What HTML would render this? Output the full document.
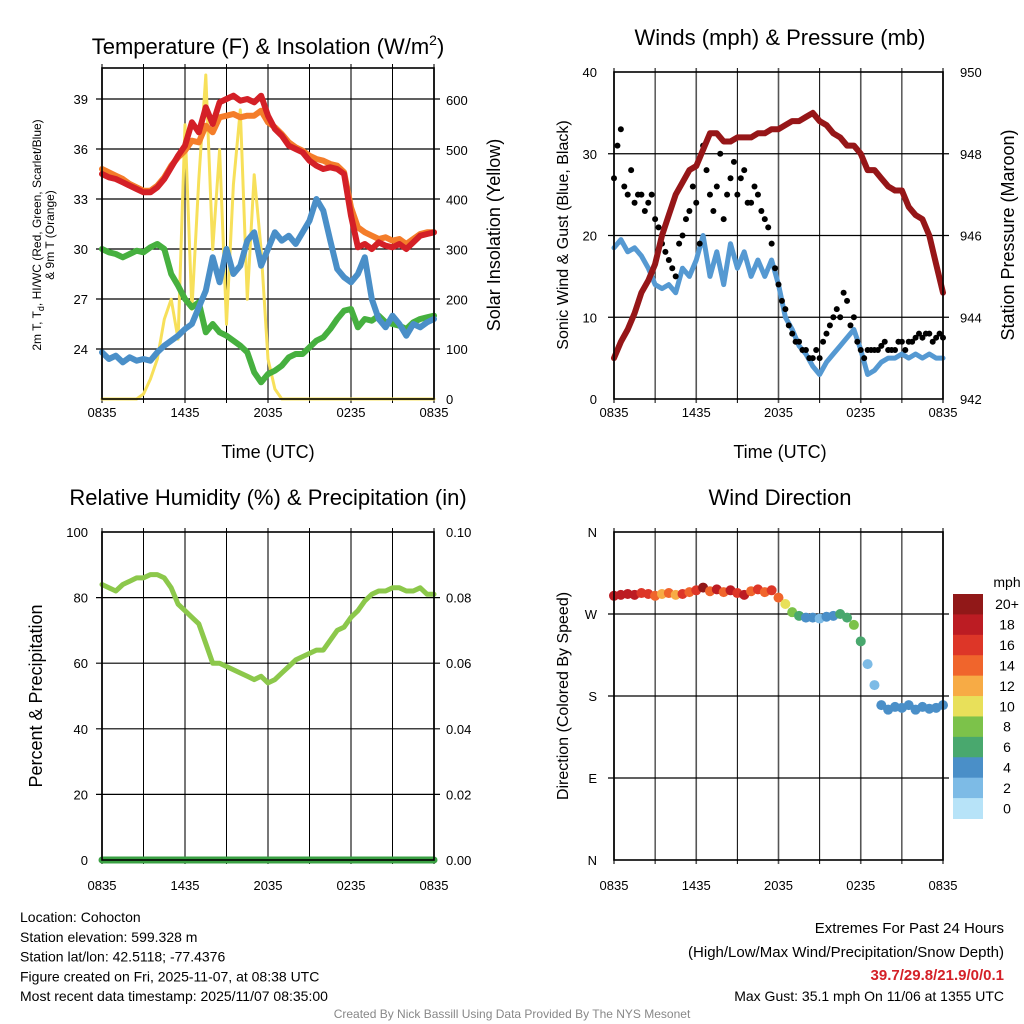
<!DOCTYPE html>
<html><head><meta charset="utf-8"><style>
html,body{margin:0;padding:0;background:#fff}
svg{display:block;font-family:"Liberation Sans",sans-serif}
</style></head><body>
<svg id="fig" width="1024" height="1024" viewBox="0 0 1024 1024" xmlns="http://www.w3.org/2000/svg">
<g id="root"></g>
</svg>
<script>
// ---------- data (30-min intervals, 0835 UTC -> 0835 UTC) ----------
const timeLabels = ["0835","1435","2035","0235","0835"];
const tempTicks = [24,27,30,33,36,39];
const solarTicks = [0,100,200,300,400,500,600];
const windTicks = [0,10,20,30,40];
const presTicks = [942,944,946,948,950];
const rhTicks = [0,20,40,60,80,100];
const precipTicks = ["0.00","0.02","0.04","0.06","0.08","0.10"];
const dirTicks = ["N","E","S","W","N"];
const speedBins = ["0","2","4","6","8","10","12","14","16","18","20+"];

const tempT = [34.5,34.3,34.2,34.0,33.8,33.6,33.4,33.4,33.7,34.2,34.9,35.6,36.2,37.6,37.0,38.5,37.5,38.8,39.0,39.2,38.9,39.0,38.8,39.2,38.0,37.2,36.8,36.2,36.0,35.8,35.3,35.0,34.8,34.9,34.8,34.5,32.0,30.1,30.3,30.0,30.4,30.2,30.1,30.3,30.0,30.4,30.8,30.9,31.0];
const temp9m = [34.8,34.6,34.4,34.2,33.9,33.7,33.5,33.5,33.8,34.3,35.0,35.5,35.9,36.5,36.4,37.4,37.0,37.9,38.0,38.1,37.9,38.0,38.0,38.3,37.6,37.3,36.9,36.4,36.1,35.9,35.6,35.4,35.3,35.1,35.0,34.6,32.5,31.3,31.0,30.8,30.6,30.7,30.5,30.6,30.3,30.6,30.9,31.0,31.0];
const dewT = [30.0,29.8,29.7,29.5,29.7,29.9,29.8,30.1,30.3,30.0,28.5,27.8,27.0,26.5,26.8,25.0,25.5,25.0,24.8,24.5,24.2,23.8,22.6,22.0,22.5,22.7,23.0,23.5,23.7,23.7,24.1,24.5,24.7,25.2,25.8,26.3,26.4,25.3,25.8,25.7,26.0,25.6,25.5,25.4,25.2,25.6,25.8,25.9,26.0];
const windChill = [23.8,23.4,23.6,23.2,23.5,23.3,23.4,23.3,23.8,24.2,24.5,24.8,25.2,25.5,26.5,27.5,29.5,28.0,30.0,28.5,29.0,30.5,31.0,29.0,30.0,31.0,30.5,30.8,30.3,31.0,31.7,33.0,32.3,30.5,28.8,28.3,28.0,28.5,29.5,27.0,25.8,25.3,26.0,25.5,24.8,25.5,25.3,25.6,25.8];
const solar = [0,0,0,0,0,0,10,40,80,160,200,120,550,180,440,650,300,500,150,430,580,200,450,300,80,20,0,0,0,0,0,0,0,0,0,0,0,0,0,0,0,0,0,0,0,0,0,0,0];

const windSpd = [18.5,19.5,18,18.5,17.5,16,14,13.5,14,13,16,15,17,20,15,18,14,19,16,18,15,17,15,17,14,10,8.5,6.5,5.5,4,3,4.5,5.5,6.5,7.5,8.5,6,3,3.5,4.5,5,5,5.5,5,5.5,5,5.5,5,5];
const gustA = [27,33,25,24,25,24,22,19,17,15,20,23,24,31,25,26,22,27,25,28,24,25,22,19,14,11,8,7,6,5,5,8,10,10,12,10,6,6,6,6.5,6,6,7,7,7.5,7.5,8,7.5,7.5];
const gustB = [31,26,28,25,23,25,21,18,16,19,22,26,19,28,23,30,25,29,27,24,26,23,21,16,12,9,7,6,5,6,7,9,11,13,9,7,5,6,6,7,6,7,6,7,8,8,7,8,7];
const pressure = [943.0,943.4,943.7,944.1,944.6,944.9,945.3,946.0,946.5,947.0,947.3,947.6,947.7,948.1,948.5,948.5,948.3,948.3,948.4,948.4,948.4,948.5,948.5,948.6,948.6,948.7,948.8,948.8,948.9,949.0,948.8,948.7,948.5,948.4,948.2,948.2,948.0,947.6,947.6,947.4,947.2,947.1,947.1,946.7,946.5,946.4,946.0,945.3,944.6];

const rh = [84,83,82,84,85,86,86,87,87,86,83,78,76,74,72,66,60,60,59,58,57,56,55,56,54,55,57,59,61,62,63,64,64,67,70,71,74,76,79,81,82,82,83,83,82,82,83,81,81];
const precip = [0,0,0,0,0,0,0,0,0,0,0,0,0,0,0,0,0,0,0,0,0,0,0,0,0,0,0,0,0,0,0,0,0,0,0,0,0,0,0,0,0,0,0,0,0,0,0,0,0];

const windDir = [290,291,292,291,293,292,290,292,293,291,292,294,296,299,295,297,294,296,293,291,295,297,294,296,288,281,272,268,266,266,265,267,268,270,266,258,240,215,192,170,165,168,167,170,165,168,166,167,170];

const binColors = ["#b7e3f8","#7dbbe6","#4a8fc8","#49a86e","#7cc24a","#e8e05a","#f7ab45","#f0652c","#dd3628","#bc1c23","#911818"];

// ---------- helpers ----------
const NS="http://www.w3.org/2000/svg";
const root=document.getElementById('root');
function mk(tag,attrs,parent){const e=document.createElementNS(NS,tag);for(const k in attrs)e.setAttribute(k,attrs[k]);(parent||root).appendChild(e);return e;}
function txt(s,x,y,size,anchor,parent,extra){const e=mk('text',Object.assign({x:x,y:y,'font-size':size,'text-anchor':anchor||'middle',fill:'#000'},extra||{}),parent);e.textContent=s;return e;}
function lin(d0,d1,r0,r1){return v=>r0+(v-d0)/(d1-d0)*(r1-r0);}

function panel(name,x0,x1,y0,y1){
  const g=mk('g',{});
  
  
  for(let i=0;i<=8;i++){const x=x0+(x1-x0)*i/8;
    const l=mk('line',{x1:x,x2:x,y1:y0-4,y2:y1+4,stroke:i%2?'#000':'#555','stroke-width':i%2?1:1.6},g);
    
    }
  return g;
}
function hgrid(g,x0,x1,ys){ys.forEach(y=>{const l=mk('line',{x1:x0-6,x2:x1+6,y1:y,y2:y,stroke:'#000','stroke-width':1.2},g);
  
  });}
function frame(g,x0,x1,y0,y1){const r=mk('rect',{x:x0,y:y0,width:x1-x0,height:y1-y0,fill:'none',stroke:'#000','stroke-width':1.6},g);
  
  }
function xlabels(g,x0,x1,y){timeLabels.forEach((s,i)=>{const t=txt(s,x0+(x1-x0)*i/4,y,13,'middle',g);
  
  });}
function line(g,arr,xs,ys,color,w,name){const n=arr.length;let d='';arr.forEach((v,i)=>{d+=(i?'L':'M')+xs(i*24/(n-1)).toFixed(1)+','+ys(v).toFixed(1);});
  const p=mk('path',{d:d,fill:'none',stroke:color,'stroke-width':w,'stroke-linejoin':'round','stroke-linecap':'round'},g);
  
  return p;}
function rotText(s,x,y,size,g,name){const t=txt(s,x,y,size,'middle',g,{transform:`rotate(-90 ${x} ${y})`});
  
  return t;}

// ---------- Panel 1: temperature ----------
{
 const x0=102,x1=434,y0=68,y1=399;
 const g=panel('temperature-panel',x0,x1,y0,y1);
 const xs=lin(0,24,x0,x1), ys=lin(21,40.86,y1,y0), ysol=lin(0,664,y1,y0);
 hgrid(g,x0,x1,tempTicks.map(ys));
 line(g,solar,xs,ysol,'#f7e05a',3,'solar-insolation-line');
 line(g,temp9m,xs,ys,'#f47d2a',6,'temp-9m-line');
 line(g,tempT,xs,ys,'#d42027',6,'temp-2m-line');
 line(g,dewT,xs,ys,'#46b03f',6,'dewpoint-line');
 line(g,windChill,xs,ys,'#4a8fc8',6,'windchill-line');
 frame(g,x0,x1,y0,y1);
 tempTicks.forEach(v=>{const t=txt(String(v),88,ys(v)+5,13,'end',g);});
 solarTicks.forEach(v=>{const t=txt(String(v),446,ysol(v)+5,13,'start',g);});
 xlabels(g,x0,x1,417);
 const tt=mk('text',{x:268,y:54,'font-size':22,'text-anchor':'middle'},g);
 tt.innerHTML='Temperature (F) &amp; Insolation (W/m<tspan dy="-9" font-size="14">2</tspan><tspan dy="9">)</tspan>';
 
 
 const xt=txt('Time (UTC)',268,458,18,'middle',g);
 const yl=mk('text',{x:0,y:0,'font-size':12,'text-anchor':'middle',transform:'translate(41 235) rotate(-90)'},g);
 yl.innerHTML='2m T, T<tspan dy="3" font-size="9">d</tspan><tspan dy="-3">, HI/WC (Red, Green, Scarlet/Blue)</tspan>';
 
 
 rotText('& 9m T (Orange)',54,235,12,g,'temperature-y-axis-title-2');
 rotText('Solar Insolation (Yellow)',500,235,18,g,'solar-y-axis-title');
}

// ---------- Panel 2: winds ----------
{
 const x0=614,x1=943,y0=72,y1=399;
 const g=panel('winds-panel',x0,x1,y0,y1);
 const xs=lin(0,24,x0,x1), ys=lin(0,40,y1,y0), yp=lin(942,950,y1,y0);
 hgrid(g,x0,x1,[10,20,30].map(ys));
 line(g,windSpd,xs,ys,'#5599d2',5,'sonic-wind-line');
 const n=gustA.length;
 gustA.forEach((v,i)=>{const c=mk('circle',{cx:xs(i*24/(n-1)),cy:ys(v),r:3,fill:'#000'},g);
   
   });
 gustB.forEach((v,i)=>{if(i>=n-1)return;const c=mk('circle',{cx:xs((i+0.5)*24/(n-1)),cy:ys(v),r:3,fill:'#000'},g);
   
   });
 line(g,pressure,xs,yp,'#961618',6,'pressure-line');
 frame(g,x0,x1,y0,y1);
 windTicks.forEach(v=>{const t=txt(String(v),597,ys(v)+5,13,'end',g);});
 presTicks.forEach(v=>{const t=txt(String(v),960,yp(v)+5,13,'start',g);});
 xlabels(g,x0,x1,417);
 const tt=txt('Winds (mph) & Pressure (mb)',780,45,22,'middle',g);
 const xt=txt('Time (UTC)',780,458,18,'middle',g);
 rotText('Sonic Wind & Gust (Blue, Black)',568,235,16,g,'wind-y-axis-title');
 rotText('Station Pressure (Maroon)',1014,235,18,g,'pressure-y-axis-title');
}

// ---------- Panel 3: RH ----------
{
 const x0=102,x1=434,y0=532,y1=860;
 const g=panel('humidity-panel',x0,x1,y0,y1);
 const xs=lin(0,24,x0,x1), ys=lin(0,100,y1,y0), ypr=lin(0,0.1,y1,y0);
 hgrid(g,x0,x1,rhTicks.slice(1,5).map(ys));
 line(g,rh,xs,ys,'#8cc84b',5,'relative-humidity-line');
 line(g,precip,xs,ypr,'#3aa043',7,'precipitation-line');
 frame(g,x0,x1,y0,y1);
 rhTicks.forEach(v=>{const t=txt(String(v),88,ys(v)+5,13,'end',g);});
 precipTicks.forEach((s,i)=>{const t=txt(s,446,ys(i*20)+5,13,'start',g);});
 xlabels(g,x0,x1,890);
 const tt=txt('Relative Humidity (%) & Precipitation (in)',268,505,22,'middle',g);
 rotText('Percent & Precipitation',42,696,18,g,'humidity-y-axis-title');
}

// ---------- Panel 4: wind direction ----------
{
 const x0=614,x1=943,y0=532,y1=860;
 const g=panel('wind-direction-panel',x0,x1,y0,y1);
 const xs=lin(0,24,x0,x1), ys=lin(0,360,y1,y0);
 hgrid(g,x0,x1,[90,180,270].map(ys));
 const n=windDir.length;
 windDir.forEach((v,i)=>{const b=Math.max(0,Math.min(10,Math.floor(windSpd[i]/2)));
   const c=mk('circle',{cx:xs(i*24/(n-1)),cy:ys(v),r:5,fill:binColors[b]},g);
   
   });
 frame(g,x0,x1,y0,y1);
 dirTicks.forEach((s,i)=>{const t=txt(s,597,ys(i*90)+5,13,'end',g);});
 xlabels(g,x0,x1,890);
 const tt=txt('Wind Direction',780,505,22,'middle',g);
 rotText('Direction (Colored By Speed)',568,696,16,g,'direction-y-axis-title');
 const cb=mk('g',{});
 
 
 const cbTop=594,cbH=224.5/11;
 speedBins.forEach((s,i)=>{const k=10-i;const y=cbTop+i*cbH;
   const r=mk('rect',{x:953,y:y,width:30,height:cbH+0.5,fill:binColors[k]},cb);
   
   
   const t=txt(speedBins[k],1007,y+cbH/2+5,14,'middle',cb);
   
   });
 const u=txt('mph',1007,587,14,'middle',cb);
}

// ---------- footer text ----------
{
 const g=mk('g',{});
 
 
 ["Location: Cohocton","Station elevation: 599.328 m","Station lat/lon: 42.5118; -77.4376","Figure created on Fri, 2025-11-07, at 08:38 UTC","Most recent data timestamp: 2025/11/07 08:35:00"].forEach((s,i)=>{
   const t=txt(s,20,922+i*19.8,14,'start',g);});
 const h=mk('g',{});
 
 
 let t=txt('Extremes For Past 24 Hours',1004,933,15,'end',h);
 t=txt('(High/Low/Max Wind/Precipitation/Snow Depth)',1004,957,15,'end',h);
 t=txt('39.7/29.8/21.9/0/0.1',1004,980,15,'end',h,{fill:'#d42027','font-weight':'bold'});
 t=txt('Max Gust: 35.1 mph On 11/06 at 1355 UTC',1004,1001,14,'end',h);
 t=txt('Created By Nick Bassill Using Data Provided By The NYS Mesonet',512,1018,12,'middle',root,{fill:'#888'});
}
</script>
</body></html>
